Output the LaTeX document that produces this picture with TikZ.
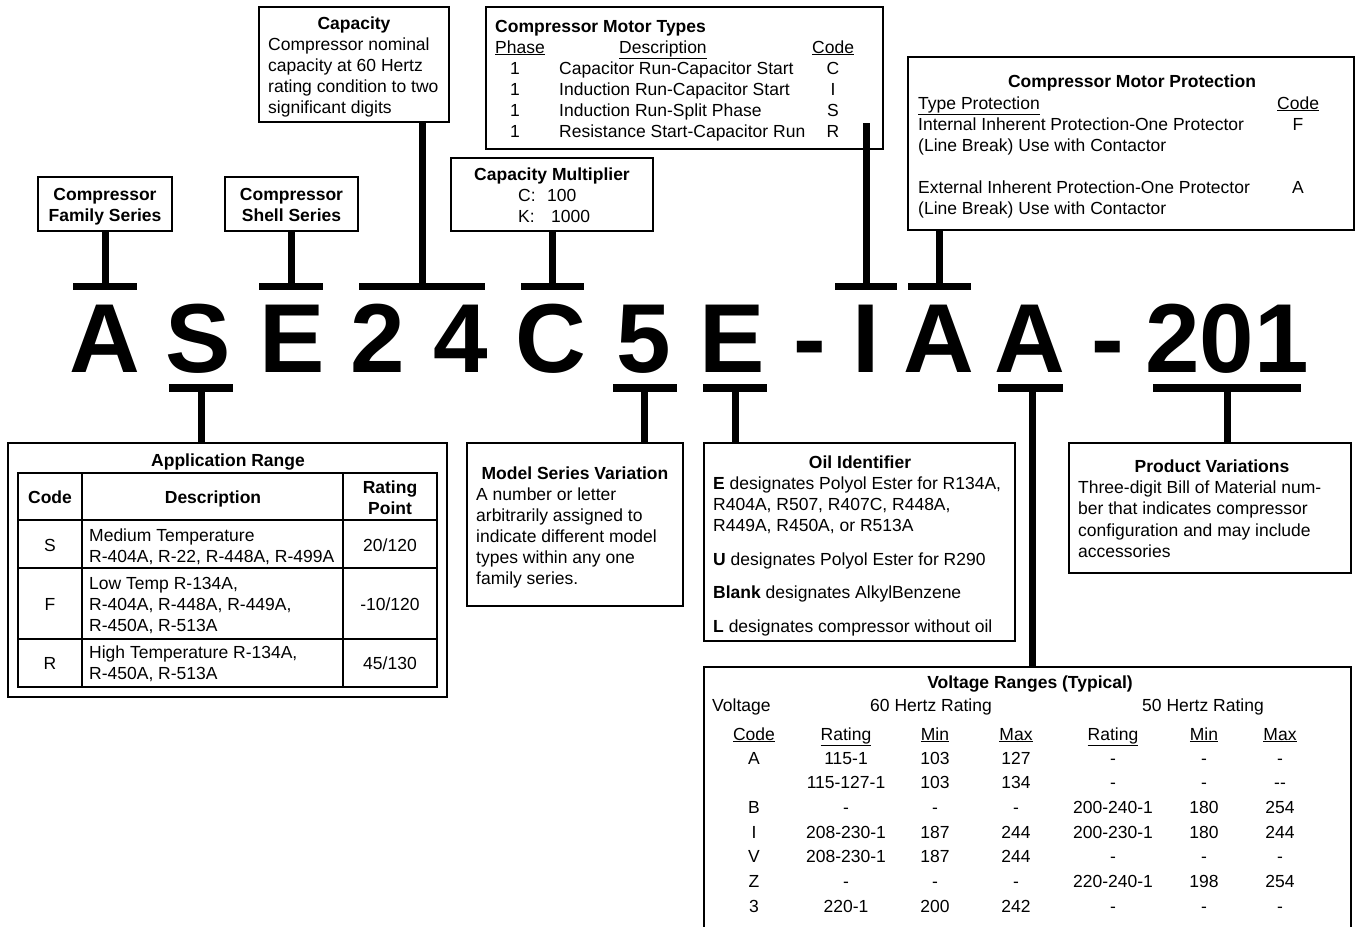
\documentclass[tikz,border=0pt]{standalone}
\usepackage{fontspec}
\setmainfont{Liberation Sans}
\usetikzlibrary{fit}
\newcommand{\ul}[1]{\underline{#1}}
\begin{document}
\begin{tikzpicture}[x=1pt,y=-1pt,
  box/.style={draw, line width=1.6pt, inner sep=0pt},
  tbl/.style={line width=1.6pt},
  stem/.style={line width=7pt},
  bar/.style={line width=7.5pt},
  txt/.style={inner sep=0pt, anchor=base west, font=\fontsize{17.5}{21}\selectfont},
  ctxt/.style={inner sep=0pt, anchor=base, font=\fontsize{17.5}{21}\selectfont},
  bld/.style={font=\fontsize{17.5}{21}\selectfont\bfseries},
  big/.style={inner sep=0pt, anchor=base, font=\fontsize{98}{100}\selectfont\bfseries},
]
\useasboundingbox (0,0) rectangle (1356,926);
\fill[white] (0,0) rectangle (1356,926);

% ---------- big code letters ----------
\foreach \ch/\xx [count=\i] in {A/104.5, S/198, E/292, 2/378, 4/461, C/551, 5/644, E/732, -/810, I/866, A/938.5, A/1030, -/1108, 201/1227}
  \node[big] (L\i) at (\xx,372) {\ch};

% ---------- upper boxes ----------
\node[box, fit={(38,177) (172,231)}] (famB) {};
\node[ctxt,bld] (famT1) at (105,200) {Compressor};
\node[ctxt,bld] (famT2) at (105,221) {Family Series};

\node[box, fit={(225,177) (358,231)}] (shB) {};
\node[ctxt,bld] (shT1) at (291.5,200) {Compressor};
\node[ctxt,bld] (shT2) at (291.5,221) {Shell Series};

\node[box, fit={(259,7) (449,122)}] (capB) {};
\node[ctxt,bld] (capT) at (354,29) {Capacity};
\foreach \t [count=\i] in {Compressor nominal, capacity at 60 Hertz, rating condition to two, significant digits}
  \node[txt] (capL\i) at (268,{29+21*\i}) {\t};

\node[box, fit={(451,158) (653,231)}] (cmB) {};
\node[ctxt,bld] (cmT) at (552,180) {Capacity Multiplier};
\node[txt] (cmL1) at (518,201) {C:\hspace{11.5pt}100};
\node[txt] (cmL2) at (518,222) {K:\hspace{16.5pt}1000};

\node[box, fit={(486,7) (883,149)}] (mtB) {};
\node[txt,bld] (mtT) at (495,32) {Compressor Motor Types};
\node[txt] (mtH1) at (495,53) {\ul{Phase}};
\node[txt] (mtH2) at (619,53) {\ul{Description}};
\node[txt] (mtH3) at (812,53) {\ul{Code}};
\foreach \d/\c [count=\i] in {Capacitor Run-Capacitor Start/C, Induction Run-Capacitor Start/I, Induction Run-Split Phase/S, Resistance Start-Capacitor Run/R}{
  \node[ctxt] (mtP\i) at (515,{53+21*\i}) {1};
  \node[txt] (mtD\i) at (559,{53+21*\i}) {\d};
  \node[ctxt] (mtC\i) at (833,{53+21*\i}) {\c};
}

\node[box, fit={(908,57) (1354,230)}] (mpB) {};
\node[ctxt,bld] (mpT) at (1132,87) {Compressor Motor Protection};
\node[txt] (mpH1) at (918,109) {\ul{Type Protection}};
\node[txt] (mpH2) at (1277,109) {\ul{Code}};
\node[txt] (mpL1) at (918,130) {Internal Inherent Protection-One Protector};
\node[ctxt] (mpC1) at (1298,130) {F};
\node[txt] (mpL2) at (918,151) {(Line Break) Use with Contactor};
\node[txt] (mpL3) at (918,193) {External Inherent Protection-One Protector};
\node[ctxt] (mpC2) at (1298,193) {A};
\node[txt] (mpL4) at (918,214) {(Line Break) Use with Contactor};

% ---------- upper connectors ----------
\coordinate (bA) at (105,286.5);
\coordinate (bE) at (291,286.5);
\coordinate (bCap) at (422,286.5);
\coordinate (bC) at (552,286.5);
\coordinate (bI) at (866,286.5);
\coordinate (bP) at (939,286.5);
\coordinate (mtStemTop) at (866,123);
\draw[stem] (famB.south -| bA) -- (bA);
\draw[stem] (shB.south -| bE) -- (bE);
\draw[stem] (capB.south -| bCap) -- (bCap);
\draw[stem] (cmB.south -| bC) -- (bC);
\draw[stem] (mtStemTop) -- (bI);
\draw[stem] (mpB.south -| bP) -- (bP);
\draw[bar] (73,286.5) -- (137,286.5);
\draw[bar] (259,286.5) -- (323,286.5);
\draw[bar] (359,286.5) -- (485,286.5);
\draw[bar] (521,286.5) -- (584,286.5);
\draw[bar] (835,286.5) -- (897,286.5);
\draw[bar] (908,286.5) -- (971,286.5);

% ---------- lower boxes ----------
\node[box, fit={(8,443) (447,697)}] (apB) {};
\node[ctxt,bld] (apT) at (228,466) {Application Range};
\draw[tbl] (18,473) rectangle (437,687);
\draw[tbl] (18,520) -- (437,520) (18,568) -- (437,568) (18,639) -- (437,639)
           (82,473) -- (82,687) (343,473) -- (343,687);
\node[ctxt,bld] (apH1) at (50,503) {Code};
\node[ctxt,bld] (apH2) at (213,503) {Description};
\node[ctxt,bld] (apH3) at (390,493) {Rating};
\node[ctxt,bld] (apH4) at (390,514) {Point};
\node[ctxt] (apS) at (50,551) {S};
\node[txt] (apS1) at (89,541) {Medium Temperature};
\node[txt] (apS2) at (89,562) {R-404A, R-22, R-448A, R-499A};
\node[ctxt] (apS3) at (390,551) {20/120};
\node[ctxt] (apF) at (50,610) {F};
\node[txt] (apF1) at (89,589) {Low Temp R-134A,};
\node[txt] (apF2) at (89,610) {R-404A, R-448A, R-449A,};
\node[txt] (apF3) at (89,631) {R-450A, R-513A};
\node[ctxt] (apF4) at (390,610) {-10/120};
\node[ctxt] (apR) at (50,669) {R};
\node[txt] (apR1) at (89,658) {High Temperature R-134A,};
\node[txt] (apR2) at (89,679) {R-450A, R-513A};
\node[ctxt] (apR3) at (390,669) {45/130};

\node[box, fit={(467,443) (683,606)}] (msB) {};
\node[ctxt,bld] (msT) at (575,479) {Model Series Variation};
\foreach \t [count=\i] in {A number or letter, arbitrarily assigned to, indicate different model, types within any one, family series.}
  \node[txt] (msL\i) at (476,{479+21*\i}) {\t};

\node[box, fit={(704,443) (1015,641)}] (oiB) {};
\node[ctxt,bld] (oiT) at (860,468) {Oil Identifier};
\node[txt] (oiL1) at (713,489) {{\bfseries E} designates Polyol Ester for R134A,};
\node[txt] (oiL2) at (713,510) {R404A, R507, R407C, R448A,};
\node[txt] (oiL3) at (713,531) {R449A, R450A, or R513A};
\node[txt] (oiL4) at (713,565) {{\bfseries U} designates Polyol Ester for R290};
\node[txt] (oiL5) at (713,598) {{\bfseries Blank} designates AlkylBenzene};
\node[txt] (oiL6) at (713,632) {{\bfseries L} designates compressor without oil};

\node[box, fit={(1069,443) (1351,573)}] (pvB) {};
\node[ctxt,bld] (pvT) at (1212,472) {Product Variations};
\foreach \t [count=\i] in {Three-digit Bill of Material num-, ber that indicates compressor, configuration and may include, accessories}
  \node[txt] (pvL\i) at (1078,{472+21.4*\i}) {\t};

\node[box, fit={(704,667) (1351,950)}] (vrB) {};
\node[ctxt,bld] (vrT) at (1030,688) {Voltage Ranges (Typical)};
\node[txt] (vrV) at (712,711) {Voltage};
\node[ctxt] (vr60) at (931,711) {60 Hertz Rating};
\node[ctxt] (vr50) at (1203,711) {50 Hertz Rating};
\foreach \h/\xx [count=\i] in {Code/754, Rating/846, Min/935, Max/1016, Rating/1113, Min/1204, Max/1280}
  \node[ctxt] (vrH\i) at (\xx,740) {\ul{\h}};
\foreach \c/\r/\mi/\ma/\rr/\mm/\mx [count=\i] in {
  A/115-1/103/127/-/-/-,
  {}/115-127-1/103/134/-/-/-{}-,
  B/-/-/-/200-240-1/180/254,
  I/208-230-1/187/244/200-230-1/180/244,
  V/208-230-1/187/244/-/-/-,
  Z/-/-/-/220-240-1/198/254,
  3/220-1/200/242/-/-/-}{
  \node[ctxt] (vc\i) at (754,{739.3+24.7*\i}) {\c};
  \node[ctxt] (vr\i) at (846,{739.3+24.7*\i}) {\r};
  \node[ctxt] (vn\i) at (935,{739.3+24.7*\i}) {\mi};
  \node[ctxt] (vx\i) at (1016,{739.3+24.7*\i}) {\ma};
  \node[ctxt] (wr\i) at (1113,{739.3+24.7*\i}) {\rr};
  \node[ctxt] (wn\i) at (1204,{739.3+24.7*\i}) {\mm};
  \node[ctxt] (wx\i) at (1280,{739.3+24.7*\i}) {\mx};
}

% ---------- lower connectors ----------
\coordinate (bS) at (201,388);
\coordinate (b5) at (644.5,388);
\coordinate (bE2) at (735,388);
\coordinate (bV) at (1032,388);
\coordinate (bPV) at (1227,388);
\draw[stem] (bS) -- (bS |- apB.north);
\draw[stem] (b5) -- (b5 |- msB.north);
\draw[stem] (bE2) -- (bE2 |- oiB.north);
\draw[stem] (bV) -- (bV |- vrB.north);
\draw[stem] (bPV) -- (bPV |- pvB.north);
\draw[bar] (169,388) -- (233,388);
\draw[bar] (613,388) -- (677,388);
\draw[bar] (703,388) -- (767,388);
\draw[bar] (998,388) -- (1063,388);
\draw[bar] (1153,388) -- (1301,388);
\end{tikzpicture}
\end{document}
